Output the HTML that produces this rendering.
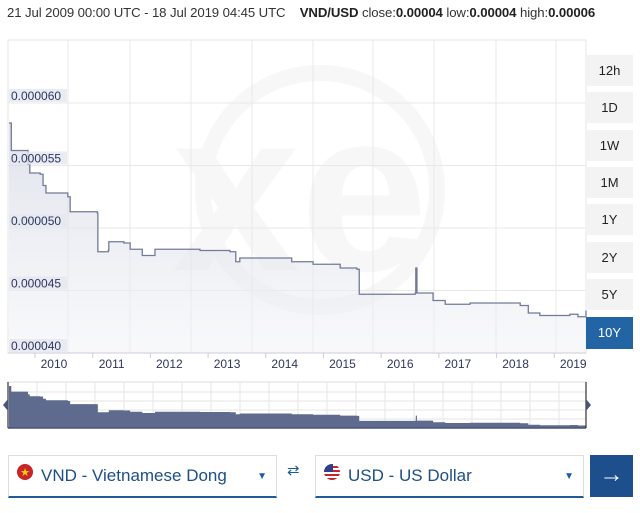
<!DOCTYPE html>
<html><head><meta charset="utf-8"><style>
body{margin:0;width:640px;height:513px;background:#fff;font-family:"Liberation Sans",sans-serif;overflow:hidden;position:relative}
.hdr{position:absolute;left:7px;top:5px;font-size:13.2px;color:#333;white-space:nowrap;letter-spacing:-0.1px}
.hdr b{color:#222}
.btn{position:absolute;left:586px;width:47px;height:31px;background:#f3f3f3;color:#222;font-size:13px;text-align:center;line-height:31px}
.btn.sel{background:#2364a5;color:#fff}
.sel-box{position:absolute;top:455px;height:40px;border:1px solid #ddd;border-bottom:2px solid #1e5c96;background:#fff}
.sel-box span.t{position:absolute;left:32px;top:10px;font-size:17px;color:#1c4f86}
.sel-box .car{position:absolute;right:9px;top:15px;font-size:10px;color:#1e5ab0}
</style></head><body>
<div class="hdr">21 Jul 2009 00:00 UTC - 18 Jul 2019 04:45 UTC &nbsp;&nbsp; <b>VND/USD</b> close:<b>0.00004</b> low:<b>0.00004</b> high:<b>0.00006</b></div>
<svg id="ch" width="640" height="440" style="position:absolute;left:0;top:0"></svg>
<div class="btn" style="top:55px">12h</div>
<div class="btn" style="top:92px">1D</div>
<div class="btn" style="top:130px">1W</div>
<div class="btn" style="top:167px">1M</div>
<div class="btn" style="top:204px">1Y</div>
<div class="btn" style="top:242px">2Y</div>
<div class="btn" style="top:279px">5Y</div>
<div class="btn sel" style="top:317px;height:32px">10Y</div>
<div class="sel-box" style="left:8px;width:267px">
<svg style="position:absolute;left:8px;top:8px" width="16" height="16"><circle cx="8" cy="8" r="8" fill="#c8242b"/><text x="8" y="12" font-size="11" fill="#f5d300" text-anchor="middle">★</text></svg>
<span class="t">VND - Vietnamese Dong</span><span class="car">▼</span></div>
<div style="position:absolute;left:287px;top:466px;font-size:15px;color:#1e5c96;line-height:9px">⇄</div>
<div class="sel-box" style="left:315px;width:267px">
<svg style="position:absolute;left:8px;top:8px" width="16" height="16"><clipPath id="cp"><circle cx="8" cy="8" r="8"/></clipPath><g clip-path="url(#cp)"><rect width="16" height="16" fill="#fff"/><rect y="2" width="16" height="2" fill="#c8242b"/><rect y="6" width="16" height="2" fill="#c8242b"/><rect y="10" width="16" height="2" fill="#c8242b"/><rect y="14" width="16" height="2" fill="#c8242b"/><rect width="9" height="8" fill="#2d3f8a"/></g></svg>
<span class="t">USD - US Dollar</span><span class="car">▼</span></div>
<div style="position:absolute;left:590px;top:455px;width:43px;height:42px;background:#1c4f8c;color:#fff;font-size:24px;text-align:center;line-height:40px;font-weight:bold">→</div>
<script>
const years=[2009.55,2009.58,2009.59,2009.86,2009.88,2009.91,2010.09,2010.14,2010.19,2010.57,2010.61,2011.08,2011.09,2011.27,2011.28,2011.54,2011.65,2011.86,2012.03,2012.08,2012.86,2013.38,2013.48,2013.55,2014.33,2014.45,2014.82,2015.11,2015.29,2015.58,2015.62,2016.33,2016.59,2016.60,2016.62,2016.85,2016.90,2017.11,2017.54,2018.06,2018.41,2018.55,2018.75,2019.27,2019.41,2019.55];
const rates=[0.0000584,0.0000584,0.0000562,0.0000562,0.0000551,0.0000544,0.0000543,0.0000534,0.0000528,0.0000525,0.0000513,0.0000512,0.0000481,0.0000482,0.0000489,0.0000488,0.0000483,0.0000478,0.0000478,0.0000483,0.0000482,0.0000481,0.0000473,0.0000476,0.0000476,0.0000473,0.0000471,0.0000471,0.0000468,0.0000467,0.0000447,0.0000447,0.0000448,0.0000468,0.0000448,0.0000448,0.0000442,0.0000439,0.000044,0.000044,0.0000438,0.0000432,0.000043,0.0000431,0.0000429,0.0000434];
const yTicks=[0.00004,0.000045,0.00005,0.000055,0.00006];
const yTickLabels=["0.000040","0.000045","0.000050","0.000055","0.000060"];
const xTicks=[2010,2011,2012,2013,2014,2015,2016,2017,2018,2019];
const NS="http://www.w3.org/2000/svg";
const svg=document.getElementById('ch');
const X=t=>9+(t-2009.55)*57.7;
const Y=v=>353-(v-0.00004)/0.000005*62.5;
const NY=v=>386+(0.0000584-v)/(0.0000584-0.0000431)*39;
function mk(tag,a,p){const e=document.createElementNS(NS,tag);for(const k in a)e.setAttribute(k,a[k]);(p||svg).appendChild(e);return e;}
svg.innerHTML='<defs><linearGradient id="fg" x1="0" y1="0" x2="0" y2="1"><stop offset="0" stop-color="#d3d7e4" stop-opacity="0.7"/><stop offset="1" stop-color="#f1f2f6" stop-opacity="0.5"/></linearGradient></defs>';
const wm=mk('g',{opacity:0.045});


mk('circle',{cx:320,cy:190,r:117,fill:'none',stroke:'#556',"stroke-width":16},wm);
mk('text',{x:300,y:270,"font-size":230,"font-weight":"bold",fill:'#556',"text-anchor":"middle"},wm).textContent='xe';
mk('rect',{x:8,y:40,width:578,height:313,fill:'none',stroke:'#e6e6e6'});
[68,130,191,252,313,373,434,496,556].forEach(gx=>mk('line',{x1:gx,y1:40,x2:gx,y2:353,stroke:'#e8e8e8'}));
yTicks.forEach(v=>{
 const l=mk('line',{x1:8,y1:Y(v),x2:586,y2:Y(v),stroke:'#e8e8e8'});
 
 
});
let d='M'+X(years[0])+','+Y(rates[0]);
for(let i=1;i<years.length;i++){d+=' L'+X(years[i])+','+Y(rates[i-1])+' L'+X(years[i])+','+Y(rates[i]);}
const area=mk('path',{d:d+' L'+X(years[years.length-1])+',353 L'+X(years[0])+',353 Z',fill:'url(#fg)'});


const line=mk('path',{d:d,fill:'none',stroke:'#717a99',"stroke-width":1.3});


yTicks.forEach((v,i)=>{
 mk('rect',{x:9,y:Y(v)-14,width:58,height:13,fill:'#e4e7ef',opacity:0.8});
 const t=mk('text',{x:11,y:Y(v)-3,"font-size":12,fill:'#2f355e'});
 t.textContent=yTickLabels[i];
 
 
});
mk('line',{x1:8,y1:353,x2:586,y2:353,stroke:'#ccd'});
xTicks.forEach(y=>{
 mk('line',{x1:X(y),y1:353,x2:X(y),y2:358,stroke:'#ccd'});
 const t=mk('text',{x:X(y)+19,y:368,"font-size":12,fill:'#2f355e',"text-anchor":"middle"});
 t.textContent=y;
 
 
});
const nav=mk('g',{});


mk('rect',{x:8,y:382,width:578,height:46,fill:'#fff',stroke:'#ddd'},nav);
for(let gx=37;gx<586;gx+=29)mk('line',{x1:gx,y1:382,x2:gx,y2:428,stroke:'#e6e6e6'},nav);
for(let gy=392;gy<428;gy+=9)mk('line',{x1:8,y1:gy,x2:586,y2:gy,stroke:'#e6e6e6'},nav);
let nd='M'+X(years[0])+',428 L'+X(years[0])+','+NY(rates[0]);
for(let i=1;i<years.length;i++){nd+=' L'+X(years[i])+','+NY(rates[i-1])+' L'+X(years[i])+','+NY(rates[i]);}
nd+=' L'+X(years[years.length-1])+',428 Z';
mk('path',{d:nd,fill:'#5e6a8e'},nav);
mk('line',{x1:8,y1:428,x2:586,y2:428,stroke:'#4a5478',"stroke-width":1.5},nav);
mk('line',{x1:8,y1:382,x2:8,y2:428,stroke:'#333',"stroke-width":1.2},nav);
mk('line',{x1:586,y1:382,x2:586,y2:428,stroke:'#333',"stroke-width":1.2},nav);
mk('path',{d:'M8,399 L3,405 L8,411 Z',fill:'#4a5478'},nav);
mk('path',{d:'M586,399 L591,405 L586,411 Z',fill:'#4a5478'},nav);
</script>
</body></html>
